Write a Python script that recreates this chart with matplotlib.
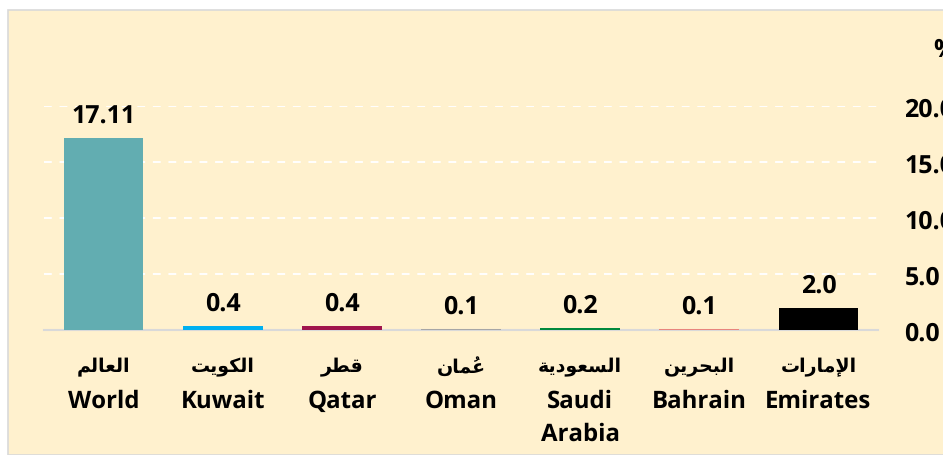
import matplotlib
matplotlib.use("Agg")
import matplotlib.pyplot as plt
from matplotlib.patches import Rectangle

# data
names_ar = ["العالم", "الكويت", "قطر", "عُمان", "السعودية", "البحرين", "الإمارات"]
names_en = ["World", "Kuwait", "Qatar", "Oman", "Saudi\nArabia", "Bahrain", "Emirates"]
values = [17.11, 0.4, 0.4, 0.1, 0.2, 0.1, 2.0]
value_labels = ["17.11", "0.4", "0.4", "0.1", "0.2", "0.1", "2.0"]
bar_colors = ["#62ADB1", "#00B0F0", "#A0154D", "#A6A6A6", "#00883D", "#E8857D", "#000000"]
y_ticks = [0, 5, 10, 15, 20]

# matplotlib does no arabic shaping, so pick presentation forms by hand
# forms: isolated, final, initial, medial (right-joining letters have only two)
FORMS = {
    "\u0627": "FE8D FE8E", "\u0625": "FE87 FE88", "\u0644": "FEDD FEDE FEDF FEE0",
    "\u0639": "FEC9 FECA FECB FECC", "\u0645": "FEE1 FEE2 FEE3 FEE4",
    "\u0643": "FED9 FEDA FEDB FEDC", "\u0648": "FEED FEEE", "\u064A": "FEF1 FEF2 FEF3 FEF4",
    "\u062A": "FE95 FE96 FE97 FE98", "\u0642": "FED5 FED6 FED7 FED8",
    "\u0637": "FEC1 FEC2 FEC3 FEC4", "\u0631": "FEAD FEAE", "\u0646": "FEE5 FEE6 FEE7 FEE8",
    "\u0633": "FEB1 FEB2 FEB3 FEB4", "\u062F": "FEA9 FEAA", "\u0629": "FE93 FE94",
    "\u0628": "FE8F FE90 FE91 FE92", "\u062D": "FEA1 FEA2 FEA3 FEA4",
}
LAM_ALEF = {"\u0627": "FEFB FEFC", "\u0625": "FEF9 FEFA"}
MARKS = "\u064F"


def shape_ar(word):
    # group letters with their marks, merge lam + alef into a ligature
    clusters = []
    for ch in word:
        if ch in MARKS:
            clusters[-1][1] += ch
        elif ch in LAM_ALEF and clusters and clusters[-1][0] == "\u0644":
            clusters[-1][0] = ("LA", ch)
        else:
            clusters.append([ch, ""])
    forms = []
    for base, _ in clusters:
        code = LAM_ALEF[base[1]] if isinstance(base, tuple) else FORMS[base]
        forms.append([chr(int(c, 16)) for c in code.split()])
    out = []
    for i, f in enumerate(forms):
        back = i > 0 and len(forms[i - 1]) == 4
        fwd = len(f) == 4 and i < len(forms) - 1
        if back and fwd:
            g = f[3]
        elif back:
            g = f[1]
        elif fwd:
            g = f[2]
        else:
            g = f[0]
        # mark goes before its letter, that is where it lands right when drawn
        out.append(clusters[i][1] + g)
    return "".join(reversed(out))


plt.rcParams["font.family"] = ["Open Sans", "DejaVu Sans"]
plt.rcParams["text.hinting"] = "no_hinting"
plt.rcParams["text.hinting_factor"] = 1

fig = plt.figure(figsize=(9.43, 4.56), dpi=100)
fig.patch.set_facecolor("white")
fig.patches.append(Rectangle((8 / 943, 0), 1, (456 - 11) / 456, transform=fig.transFigure,
                             facecolor="#FFF1CE", edgecolor="#D9D9D9", linewidth=1.2, zorder=-5))

ax = fig.add_axes([44 / 943, 125 / 456, 834 / 943, 224 / 456])
ax.set_facecolor("none")
x = range(len(values))
bars = ax.bar(x, values, width=0.67, color=bar_colors, zorder=3)

for b, lab in zip(bars, value_labels):
    ax.annotate(lab, (b.get_x() + b.get_width() / 2, b.get_height()), xytext=(0, 7),
                textcoords="offset points", ha="center", va="bottom",
                fontsize=18, fontweight="bold", color="black")

ax.set_xlim(-0.5, 6.5)
ax.set_ylim(0, 20)
ax.set_yticks(y_ticks)
ax.set_yticklabels(["%.1f" % v for v in y_ticks], fontsize=18, fontweight="bold")
ax.yaxis.tick_right()
ax.tick_params(axis="y", length=0, pad=19)
ax.grid(axis="y", color="white", linestyle=(0, (4, 4)), linewidth=1.4, zorder=1)
for s in ["top", "left", "right"]:
    ax.spines[s].set_visible(False)
ax.spines["bottom"].set_color("#D9D9D9")
ax.spines["bottom"].set_linewidth(1.5)

ax.set_xticks(list(x))
ax.set_xticklabels(names_en, fontsize=17, fontweight="bold", linespacing=1.5)
ax.tick_params(axis="x", length=0, pad=42)
for i, a in enumerate(names_ar):
    ax.annotate(shape_ar(a), (i, 0), xycoords=("data", "axes fraction"), xytext=(0, -26),
                textcoords="offset points", ha="center", va="center",
                fontsize=13.5, fontweight="bold", family=["DejaVu Sans"])

fig.text(933 / 943, (456 - 50) / 456, "%", fontsize=18, fontweight="bold", ha="left", va="center")

fig.savefig("out.png", dpi=100)
